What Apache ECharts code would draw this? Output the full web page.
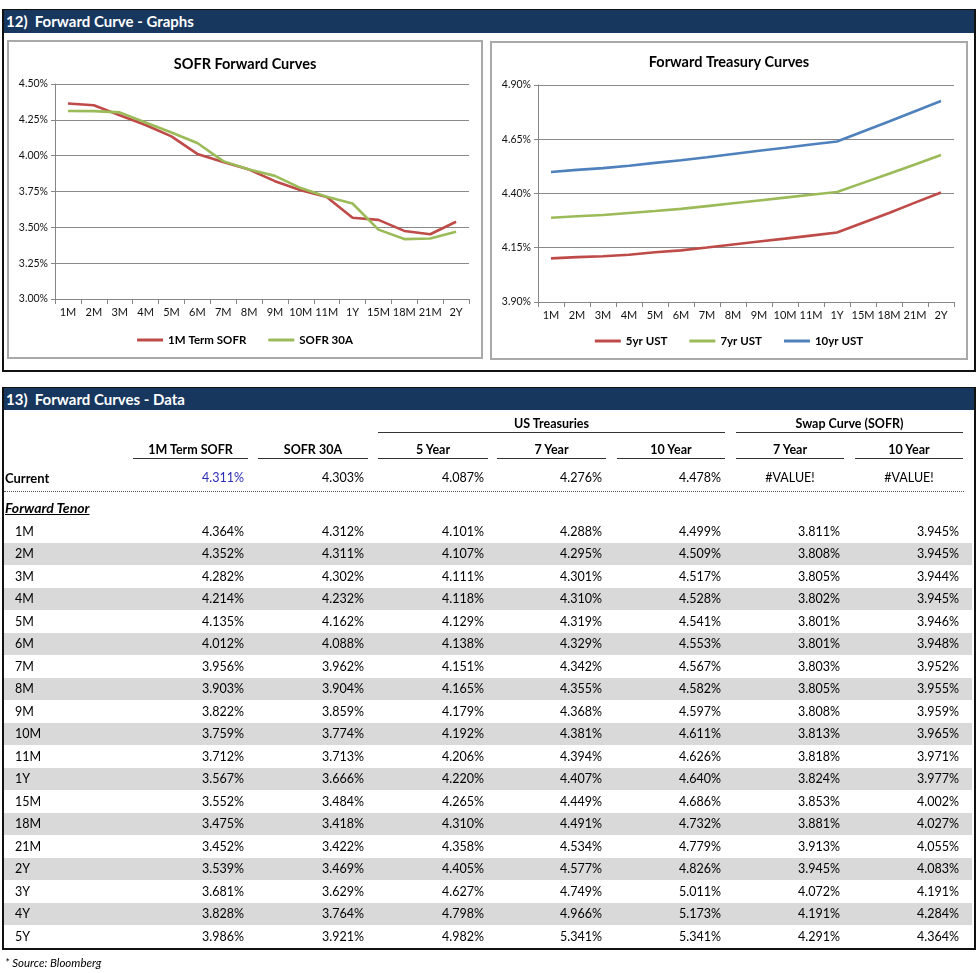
<!DOCTYPE html>
<html>
<head>
<meta charset="utf-8">
<script src="https://cdn.jsdelivr.net/npm/echarts@6/dist/echarts.min.js"></script>
<style>
  html, body { margin:0; padding:0; background:#fff; }
  body { width:980px; height:973px; position:relative; overflow:hidden; font-family: Lato, "Noto Sans", sans-serif; color:#000; }
  .abs { position:absolute; }
  .box { position:absolute; border:2px solid #111; box-sizing:border-box; }
  .bar { position:absolute; background:#17375E; color:#fff; font-weight:bold; font-size:15px; line-height:23px; padding-left:2px; box-sizing:border-box; }
  .panel { position:absolute; border:2px solid #A9A9A9; box-sizing:border-box; background:#fff; }
  .t { position:absolute; font-size:12.5px; line-height:16px; white-space:nowrap; }
  .hdr { font-weight:bold; text-align:center; }
  .line { position:absolute; height:0; border-top:1.5px solid #333; }
  .band { position:absolute; background:#D9D9D9; }
</style>
</head>
<body>
<div class="box" style="left:2px;top:9px;width:974px;height:363px;"></div>
<div class="bar" style="left:4px;top:10px;width:970px;height:23px;">12)&nbsp; Forward Curve - Graphs</div>
<div class="panel" style="left:7px;top:40px;width:476px;height:319px;"></div>
<div class="panel" style="left:490px;top:41px;width:478px;height:319px;"></div>
<div id="c1" class="abs" style="left:8px;top:41px;width:474px;height:316px;"></div>
<div id="c2" class="abs" style="left:491px;top:42px;width:476px;height:317px;"></div>

<div class="box" style="left:2px;top:387px;width:974px;height:563px;"></div>
<div class="bar" style="left:4px;top:388px;width:970px;height:22px;line-height:22px;">13)&nbsp; Forward Curves - Data</div>
<div id="tbl" class="abs" style="left:0;top:0;width:980px;height:973px;"></div>
<div class="t" style="left:5px;top:955px;font-style:italic;font-size:11.5px;">* Source: Bloomberg</div>

<script>
// ---------- DATA ----------
const tenors = ['1M','2M','3M','4M','5M','6M','7M','8M','9M','10M','11M','1Y','15M','18M','21M','2Y','3Y','4Y','5Y'];
const termSofr = [4.364,4.352,4.282,4.214,4.135,4.012,3.956,3.903,3.822,3.759,3.712,3.567,3.552,3.475,3.452,3.539,3.681,3.828,3.986];
const sofr30a  = [4.312,4.311,4.302,4.232,4.162,4.088,3.962,3.904,3.859,3.774,3.713,3.666,3.484,3.418,3.422,3.469,3.629,3.764,3.921];
const ust5     = [4.101,4.107,4.111,4.118,4.129,4.138,4.151,4.165,4.179,4.192,4.206,4.220,4.265,4.310,4.358,4.405,4.627,4.798,4.982];
const ust7     = [4.288,4.295,4.301,4.310,4.319,4.329,4.342,4.355,4.368,4.381,4.394,4.407,4.449,4.491,4.534,4.577,4.749,4.966,5.341];
const ust10    = [4.499,4.509,4.517,4.528,4.541,4.553,4.567,4.582,4.597,4.611,4.626,4.640,4.686,4.732,4.779,4.826,5.011,5.173,5.341];
const swap7    = [3.811,3.808,3.805,3.802,3.801,3.801,3.803,3.805,3.808,3.813,3.818,3.824,3.853,3.881,3.913,3.945,4.072,4.191,4.291];
const swap10   = [3.945,3.945,3.944,3.945,3.946,3.948,3.952,3.955,3.959,3.965,3.971,3.977,4.002,4.027,4.055,4.083,4.191,4.284,4.364];
const currentVals = [4.311, 4.303, 4.087, 4.276, 4.478, '#VALUE!', '#VALUE!'];
const colHeaders = ['1M Term SOFR','SOFR 30A','5 Year','7 Year','10 Year','7 Year','10 Year'];
const chartTenorCount = 16; // charts show 1M .. 2Y
const sofrTicks = {min:3.0, max:4.5, interval:0.25};
const ustTicks  = {min:3.9, max:4.9, interval:0.25};

// ---------- CHARTS ----------
const chartCats = tenors.slice(0, chartTenorCount);
const RED = '#BE4B48', GREEN = '#9BBB59', BLUE = '#4F81BD';
const FONT = 'Lato, "Noto Sans", sans-serif';

function baseOption(title, ticks, series, titleTop, legendTop) {
  return {
    animation: false,
    textStyle: { fontFamily: FONT },
    title: { text: title, left: 'center', top: titleTop,
      textStyle: { fontFamily: FONT, fontSize: 14.5, fontWeight: 'bold', color: '#000' } },
    legend: { top: legendTop, left: 'center', itemWidth: 26, itemHeight: 3, icon: 'rect', itemGap: 22,
      textStyle: { fontFamily: FONT, fontSize: 11.5, fontWeight: 'bold', color: '#000' } },
    grid: { left: 47, top: 43, width: 414, height: 215, containLabel: false },
    xAxis: { type: 'category', data: chartCats, boundaryGap: true,
      axisLine: { lineStyle: { color: '#868686', width: 1 } },
      axisTick: { show: true, alignWithLabel: false, length: 5, lineStyle: { color: '#868686' } },
      axisLabel: { fontFamily: FONT, fontSize: 11, color: '#111', margin: 8, interval: 0 } },
    yAxis: { type: 'value', min: ticks.min, max: ticks.max, interval: ticks.interval,
      axisLine: { show: true, lineStyle: { color: '#868686', width: 1 } },
      axisTick: { show: true, length: 4, lineStyle: { color: '#868686' } },
      splitLine: { lineStyle: { color: '#8A8A8A', width: 1 } },
      axisLabel: { fontFamily: FONT, fontSize: 10.5, color: '#111', margin: 7,
        formatter: v => v.toFixed(2) + '%' } },
    series: series.map(s => ({ type: 'line', name: s.name, data: s.data, showSymbol: false, symbol: 'none',
      lineStyle: { color: s.color, width: 2.6 }, itemStyle: { color: s.color } }))
  };
}

const c1 = echarts.init(document.getElementById('c1'), null, { renderer: 'canvas' });
c1.setOption(baseOption('SOFR Forward Curves', sofrTicks, [
  { name: '1M Term SOFR', data: termSofr.slice(0, chartTenorCount), color: RED },
  { name: 'SOFR 30A', data: sofr30a.slice(0, chartTenorCount), color: GREEN }
], 11, 288));

const c2 = echarts.init(document.getElementById('c2'), null, { renderer: 'canvas' });
const opt2 = baseOption('Forward Treasury Curves', ustTicks, [
  { name: '5yr UST', data: ust5.slice(0, chartTenorCount), color: RED },
  { name: '7yr UST', data: ust7.slice(0, chartTenorCount), color: GREEN },
  { name: '10yr UST', data: ust10.slice(0, chartTenorCount), color: BLUE }
], 8, 288);
opt2.grid = { left: 47, top: 43, width: 416, height: 217 };
c2.setOption(opt2);

// ---------- TABLE ----------
const tbl = document.getElementById('tbl');
const colL = [133, 258, 378, 497, 617, 736, 855];
const colR = [248, 368, 488, 606, 725, 844, 963];
function el(cls, style, text) {
  const d = document.createElement('div');
  d.className = cls; d.setAttribute('style', style);
  if (text !== undefined) d.textContent = text;
  tbl.appendChild(d); return d;
}
// group headers
el('t hdr', `left:${colL[2]}px;width:${colR[4]-colL[2]}px;top:416px;`, 'US Treasuries');
el('line', `left:${colL[2]}px;width:${colR[4]-colL[2]}px;top:432px;`);
el('t hdr', `left:${colL[5]}px;width:${colR[6]-colL[5]}px;top:416px;`, 'Swap Curve (SOFR)');
el('line', `left:${colL[5]}px;width:${colR[6]-colL[5]}px;top:432px;`);
// column headers
colHeaders.forEach((h, i) => {
  el('t hdr', `left:${colL[i]}px;width:${colR[i]-colL[i]}px;top:442px;`, h);
  el('line', `left:${colL[i]}px;width:${colR[i]-colL[i]}px;top:458px;`);
});
// current row
el('t', 'left:5px;top:470px;font-weight:bold;font-size:13px;', 'Current');
currentVals.forEach((v, i) => {
  if (typeof v === 'number') {
    el('t', `left:${colL[i]}px;width:${colR[i]-colL[i]-4}px;top:470px;text-align:right;${i===0?'color:#2B2BB5;':''}`, v.toFixed(3) + '%');
  } else {
    el('t', `left:${colL[i]}px;width:${colR[i]-colL[i]}px;top:470px;text-align:center;`, v);
  }
});
el('abs', 'left:4px;width:960px;top:491px;height:0;border-top:1px dotted #555;');
el('t', 'left:5px;top:500px;font-weight:bold;font-style:italic;text-decoration:underline;font-size:14px;', 'Forward Tenor');
// body rows
const cols = [termSofr, sofr30a, ust5, ust7, ust10, swap7, swap10];
tenors.forEach((tn, r) => {
  const top = 520 + r * 22.5;
  if (r % 2 === 1) el('band', `left:4px;width:968px;top:${top}px;height:22.5px;`);
  el('t', `left:15px;top:${top + 3.5}px;`, tn);
  cols.forEach((arr, i) => {
    el('t', `left:${colL[i]}px;width:${colR[i]-colL[i]-4}px;top:${top + 3.5}px;text-align:right;`, arr[r].toFixed(3) + '%');
  });
});
</script>
</body>
</html>
